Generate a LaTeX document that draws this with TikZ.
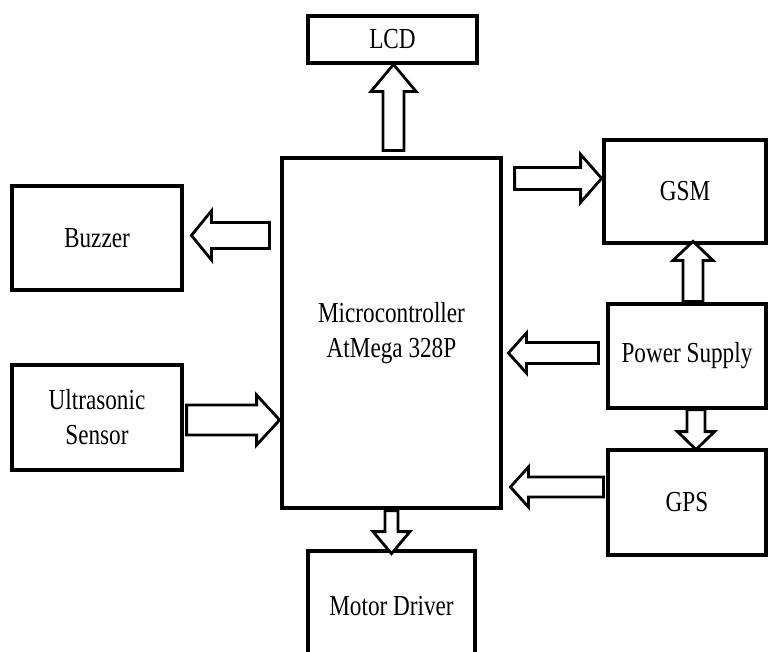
\documentclass[tikz,border=0pt]{standalone}
\usepackage{fontspec}
\setmainfont{Liberation Serif}[FakeStretch=0.8]
\usetikzlibrary{calc}
\tikzset{
  blk/.style={draw, line width=3.2pt, fill=white, inner sep=0pt, align=center,
    font=\fontsize{29}{35}\selectfont},
  barrowline/.style={draw, line width=2.8pt, fill=white, line join=miter}
}
% #1 tail point, #2 rotation, #3 length, #4 shaft half width, #5 head half width, #6 head length
\newcommand\blockarrow[6]{%
  \begin{scope}[shift={(#1)}, rotate=#2]
    \draw[barrowline] (0,-#4) -- ({#3-#6},-#4) -- ({#3-#6},-#5) -- (#3,0)
      -- ({#3-#6},#5) -- ({#3-#6},#4) -- (0,#4) -- cycle;
  \end{scope}}
\begin{document}
\begin{tikzpicture}[x=1pt, y=-1pt]
\useasboundingbox (0,0) rectangle (768,651);
\begin{scope}
\clip (0,0) rectangle (768,651);
\node[blk, minimum width=169pt, minimum height=47pt] (lcd) at (392.5,39.5) {LCD};
\node[blk, minimum width=219pt, minimum height=350pt] (micro) at (391.5,333) {Microcontroller\\AtMega 328P};
\node[blk, minimum width=162pt, minimum height=103pt] (gsm) at (685,191.5) {GSM};
\node[blk, minimum width=170pt, minimum height=104pt] (buzzer) at (97,238) {Buzzer};
\node[blk, minimum width=170pt, minimum height=105pt] (ultra) at (97,417.5) {Ultrasonic\\Sensor};
\node[blk, minimum width=158pt, minimum height=104pt] (power) at (687,356) {Power Supply};
\node[blk, minimum width=158pt, minimum height=105pt] (gps) at (687,502.5) {GPS};
\node[blk, minimum width=167pt, minimum height=110pt] (motor) at (391.5,606) {Motor Driver};

% micro -> LCD
\blockarrow{$(micro.north)+(2,-6)$}{90}{86}{10.5}{22.5}{27}
% micro -> GSM
\blockarrow{$(micro.north east)+(12,22)$}{0}{87}{11}{24}{21}
% micro -> Buzzer
\blockarrow{$(micro.north west)+(-11,79)$}{180}{78}{13}{24.5}{20}
% Ultrasonic -> micro
\blockarrow{$(ultra.east)+(3,2.5)$}{0}{93}{15}{25}{23}
% power -> GSM
\blockarrow{$(power.north)+(6,-1)$}{90}{60}{10}{20}{19}
% power -> micro
\blockarrow{$(power.west)+(-8,-3)$}{180}{90}{10.5}{20}{18}
% power -> GPS
\blockarrow{$(power.south)+(9,0)$}{270}{40}{9}{18.5}{18}
% GPS -> micro
\blockarrow{$(gps.west)+(-3,-15.5)$}{180}{93}{10}{20}{18}
% micro -> motor
\blockarrow{$(micro.south)+(0,1)$}{270}{43}{6.5}{18.5}{22}
\end{scope}
\end{tikzpicture}
\end{document}
